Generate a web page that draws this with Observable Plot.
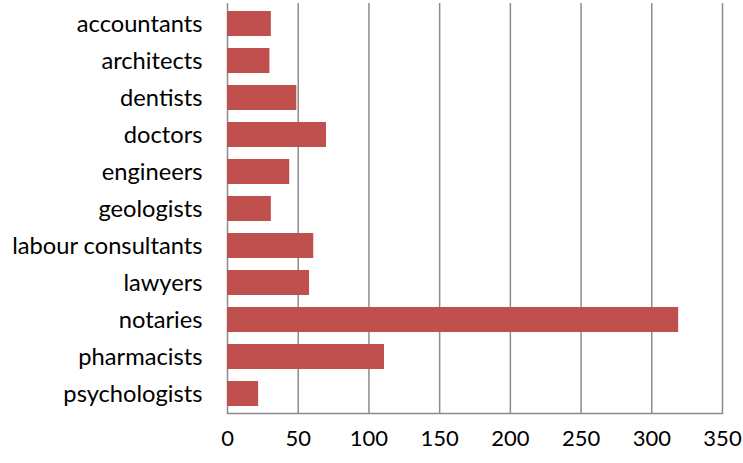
<!DOCTYPE html>
<html>
<head>
<meta charset="utf-8">
<script src="https://cdn.jsdelivr.net/npm/d3@7"></script>
<script src="https://cdn.jsdelivr.net/npm/@observablehq/plot@0.6"></script>
<style>
body { margin: 0; background: #fff; }
svg { font-family: Lato, "Noto Sans", sans-serif; }
</style>
</head>
<body>
<div id="chart"></div>
<script>
const professions = ["accountants","architects","dentists","doctors","engineers","geologists","labour consultants","lawyers","notaries","pharmacists","psychologists"];
const counts = [31, 30, 49, 70, 44, 31, 61, 58, 319, 111, 22];
const xTicks = [0, 50, 100, 150, 200, 250, 300, 350];

const data = professions.map((p, i) => ({profession: p, count: counts[i]}));

const chart = Plot.plot({
  width: 743,
  height: 463,
  marginLeft: 227,
  marginRight: 21,
  marginTop: 3,
  marginBottom: 50,
  style: {fontSize: "20px", color: "#000", background: "#fff"},
  x: {domain: [0, 350], ticks: xTicks, tickSize: 0, tickPadding: 18, label: null},
  y: {domain: professions, paddingInner: 0.33, paddingOuter: 0.19, tickSize: 0, tickPadding: 25, label: null},
  marks: [
    Plot.ruleX(xTicks, {stroke: "#8c8c8c", strokeWidth: 1.5}),
    Plot.barX(data, {x: "count", y: "profession", fill: "#C0504D"}),
    Plot.frame({anchor: "bottom", stroke: "#8c8c8c", strokeWidth: 1.5}),
    Plot.axisX({ticks: xTicks, tickSize: 0, tickPadding: 17, fontSize: 22}),
    Plot.axisY({tickSize: 0, tickPadding: 25, fontSize: 23.7})
  ]
});
document.getElementById("chart").appendChild(chart);
</script>
</body>
</html>
